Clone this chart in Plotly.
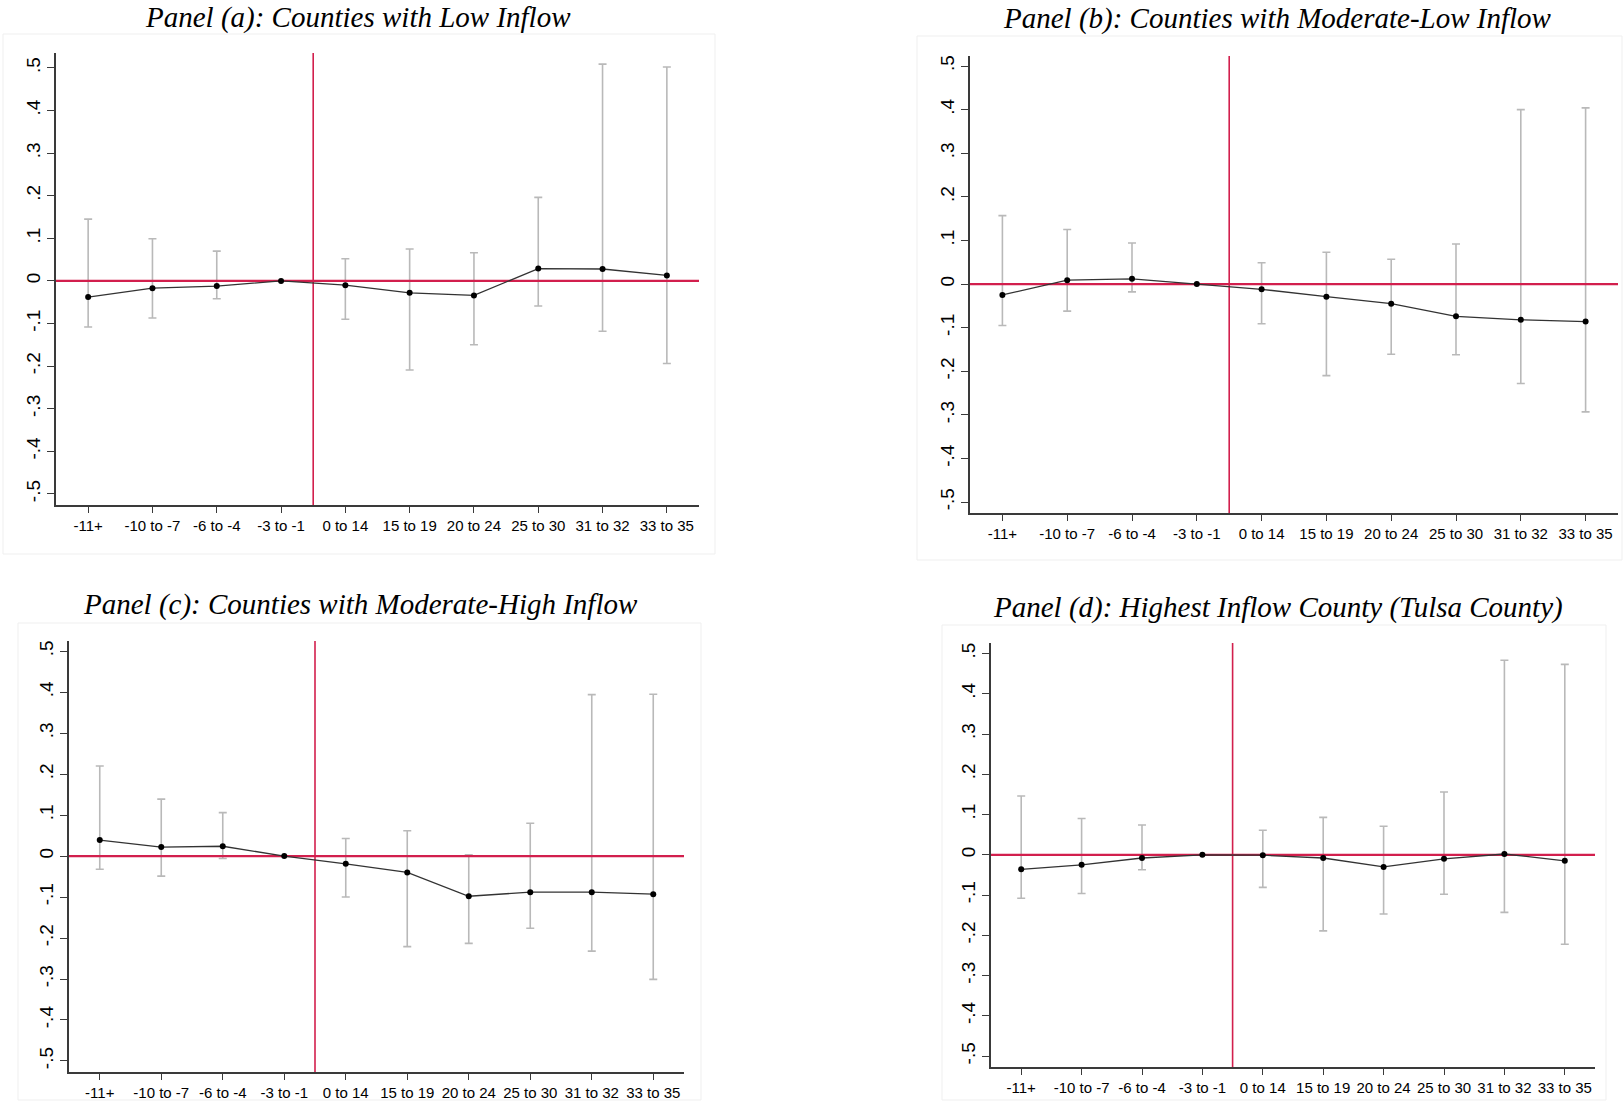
import plotly.graph_objects as go

W, H = 1623, 1101

categories = ["-11+", "-10 to -7", "-6 to -4", "-3 to -1", "0 to 14",
              "15 to 19", "20 to 24", "25 to 30", "31 to 32", "33 to 35"]

titles = ["Panel (a): Counties with Low Inflow",
          "Panel (b): Counties with Moderate-Low Inflow",
          "Panel (c): Counties with Moderate-High Inflow",
          "Panel (d): Highest Inflow County (Tulsa County)"]

# point estimates
est_a = [-0.038, -0.017, -0.012, 0.0, -0.010, -0.028, -0.034, 0.029, 0.028, 0.013]
est_b = [-0.025, 0.009, 0.012, 0.0, -0.012, -0.029, -0.045, -0.074, -0.082, -0.086]
est_c = [0.039, 0.022, 0.024, 0.0, -0.019, -0.040, -0.098, -0.088, -0.088, -0.093]
est_d = [-0.036, -0.025, -0.008, 0.0, -0.001, -0.008, -0.030, -0.010, 0.002, -0.015]

# upper / lower 95% CI bounds (None = reference period)
hi_a = [0.145, 0.099, 0.070, None, 0.052, 0.075, 0.066, 0.196, 0.509, 0.502]
lo_a = [-0.108, -0.087, -0.042, None, -0.090, -0.209, -0.150, -0.059, -0.118, -0.194]
hi_b = [0.157, 0.125, 0.094, None, 0.049, 0.073, 0.057, 0.092, 0.400, 0.404]
lo_b = [-0.095, -0.062, -0.018, None, -0.091, -0.210, -0.161, -0.162, -0.228, -0.293]
hi_c = [0.220, 0.139, 0.106, None, 0.043, 0.062, 0.003, 0.080, 0.394, 0.395]
lo_c = [-0.032, -0.049, -0.006, None, -0.100, -0.221, -0.213, -0.176, -0.232, -0.301]
hi_d = [0.146, 0.090, 0.074, None, 0.061, 0.093, 0.071, 0.156, 0.483, 0.473]
lo_d = [-0.108, -0.096, -0.037, None, -0.081, -0.189, -0.147, -0.098, -0.143, -0.222]

ytick_vals = [0.5, 0.4, 0.3, 0.2, 0.1, 0.0, -0.1, -0.2, -0.3, -0.4, -0.5]
ytick_text = [".5", ".4", ".3", ".2", ".1", "0", "-.1", "-.2", "-.3", "-.4", "-.5"]

panels = [
    dict(est=est_a, hi=hi_a, lo=lo_a, px=(56, 699), py=(53, 505),
         yr=(-0.526, 0.535), title_xy=(358, 17), box=(3, 34, 715, 554)),
    dict(est=est_b, hi=hi_b, lo=lo_b, px=(970, 1618), py=(56, 513),
         yr=(-0.525, 0.523), title_xy=(1277, 18), box=(917, 36, 1622, 560)),
    dict(est=est_c, hi=hi_c, lo=lo_c, px=(69, 684), py=(641, 1072),
         yr=(-0.527, 0.525), title_xy=(360, 604), box=(18, 623, 701, 1100)),
    dict(est=est_d, hi=hi_d, lo=lo_d, px=(991, 1595), py=(643, 1067),
         yr=(-0.527, 0.526), title_xy=(1278, 607), box=(942, 625, 1606, 1100)),
]

RED = "#d21f4d"
GRAY = "#b9b9b9"
AXC = "#3a3a3a"

fig = go.Figure()
layout = dict(template="none", width=W, height=H, margin=dict(l=0, r=0, t=0, b=0),
              paper_bgcolor="white", plot_bgcolor="white", showlegend=False)
shapes = []
annotations = []
xs = list(range(len(categories)))

for i, p in enumerate(panels):
    n = "" if i == 0 else str(i + 1)
    xa, ya = "x" + n, "y" + n
    up = [None if h is None else h - e for h, e in zip(p["hi"], p["est"])]
    dn = [None if l is None else e - l for l, e in zip(p["lo"], p["est"])]
    # CI bars
    fig.add_trace(go.Scatter(
        x=xs, y=p["est"], mode="markers", xaxis=xa, yaxis=ya,
        marker=dict(size=1, opacity=0),
        error_y=dict(type="data", symmetric=False, array=up, arrayminus=dn,
                     color=GRAY, thickness=1.6, width=4),
        hoverinfo="skip"))
    # reference lines
    fig.add_trace(go.Scatter(x=[-0.5, 9.5], y=[0, 0], mode="lines",
                             xaxis=xa, yaxis=ya, line=dict(color=RED, width=2.2),
                             hoverinfo="skip"))
    fig.add_trace(go.Scatter(x=[3.5, 3.5], y=[p["yr"][0], p["yr"][1]], mode="lines",
                             xaxis=xa, yaxis=ya, line=dict(color=RED, width=1.6),
                             hoverinfo="skip"))
    # estimates
    fig.add_trace(go.Scatter(
        x=xs, y=p["est"], mode="lines+markers", xaxis=xa, yaxis=ya,
        line=dict(color="#333333", width=1.3),
        marker=dict(color="black", size=6)))

    x0, x1 = p["px"]
    y0, y1 = p["py"]
    layout["xaxis" + n] = dict(
        domain=[x0 / W, x1 / W], anchor=ya, range=[-0.5, 9.5],
        tickmode="array", tickvals=xs, ticktext=categories, automargin=False,
        showline=True, linecolor=AXC, linewidth=1.6, mirror=False,
        ticks="outside", ticklen=6, tickwidth=1.3, tickcolor=AXC,
        showgrid=False, zeroline=False,
        tickfont=dict(family="Liberation Sans, Arial", size=15, color="black"))
    layout["yaxis" + n] = dict(
        domain=[1 - y1 / H, 1 - y0 / H], anchor=xa, range=list(p["yr"]),
        tickmode="array", tickvals=ytick_vals, ticktext=ytick_text,
        tickangle=-90, automargin=False,
        showline=True, linecolor=AXC, linewidth=1.6, mirror=False,
        ticks="outside", ticklen=7, tickwidth=1.3, tickcolor=AXC,
        showgrid=False, zeroline=False,
        tickfont=dict(family="Liberation Sans, Arial", size=19, color="black"))

    bx0, by0, bx1, by1 = p["box"]
    shapes.append(dict(type="rect", xref="paper", yref="paper",
                       x0=bx0 / W, x1=bx1 / W, y0=1 - by1 / H, y1=1 - by0 / H,
                       line=dict(color="#efefef", width=1), fillcolor="rgba(0,0,0,0)",
                       layer="below"))
    tx, ty = p["title_xy"]
    annotations.append(dict(
        text="<i>" + titles[i] + "</i>", xref="paper", yref="paper",
        x=tx / W, y=1 - ty / H, xanchor="center", yanchor="middle",
        showarrow=False,
        font=dict(family="Liberation Serif, Times New Roman", size=29, color="black")))

layout["shapes"] = shapes
layout["annotations"] = annotations
fig.update_layout(**layout)
fig.write_html("out.html", config={"displayModeBar": False},
               post_script="document.body.style.margin='0';document.body.style.padding='0';")
